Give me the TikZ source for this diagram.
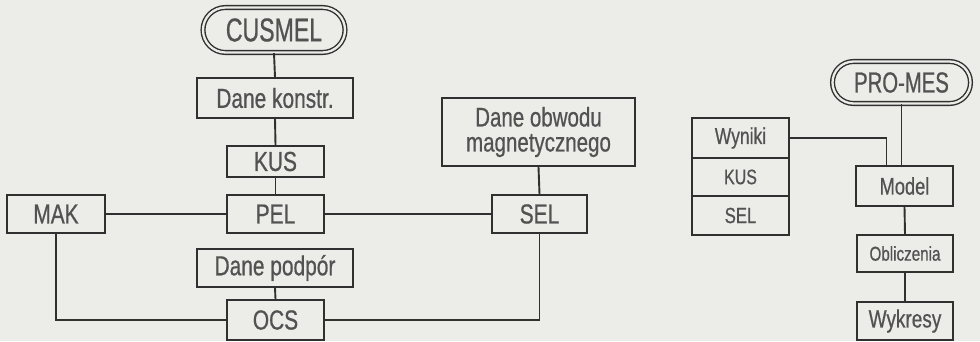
\documentclass[tikz,border=0pt]{standalone}
\usepackage{fontspec}
\newfontfamily\lett[FakeStretch=0.76,FakeBold=0.6]{Liberation Sans}
\newfontfamily\lettn[FakeStretch=0.7,FakeBold=0.6]{Liberation Sans}
\usetikzlibrary{shapes.misc}
\definecolor{paper}{RGB}{236,236,233}
\definecolor{ink}{RGB}{48,48,48}
\definecolor{letter}{RGB}{82,82,82}
\newcommand\lsize[1]{\lett\fontsize{#1}{#1}\selectfont}
\tikzset{
  box/.style={draw=ink, line width=1.9pt, inner sep=0pt, align=center,
              text=letter, font=\lsize{27.5}},
  prog/.style={rounded rectangle, draw=ink, line width=1.4pt,
               double=paper, double distance=2.3pt, inner sep=0pt,
               text=letter},
  link/.style={draw=ink, line width=1.9pt},
}
\begin{document}
\begin{tikzpicture}[x=1pt, y=-1pt]
  \fill[paper] (0,0) rectangle (980,341);
  \useasboundingbox (0,0) rectangle (980,341);

  % CUSMEL group
  \node[prog, minimum width=142pt, minimum height=45pt,
        font=\lettn\fontsize{33}{33}\selectfont] (cusmel) at (274,30) {CUSMEL};
  \node[box, minimum width=156pt, minimum height=40pt] (dk)  at (275,98)   {Dane konstr.};
  \node[box, minimum width=97pt,  minimum height=31pt] (kus) at (275.5,161.5) {KUS};
  \node[box, minimum width=97pt,  minimum height=38pt] (pel) at (275.5,214) {PEL};
  \node[box, minimum width=98pt,  minimum height=38pt] (mak) at (56,214)   {MAK};
  \node[box, minimum width=156pt, minimum height=38pt] (dp)  at (275,268)  {Dane podpór};
  \node[box, minimum width=193pt, minimum height=68pt, font=\lett\fontsize{27}{25}\selectfont]
       (dom) at (538.5,132) {Dane obwodu\\magnetycznego};
  \node[box, minimum width=97pt,  minimum height=40pt] (ocs) at (275.5,320) {OCS};
  \node[box, minimum width=95pt,  minimum height=38pt] (sel) at (539.5,214) {SEL};

  \draw[link] (cusmel.south) -- (dk.north);
  \draw[link] (dk.south) -- (kus.north);
  \draw[link] (kus.south) -- (pel.north);
  \draw[link] (mak.east) -- (pel.west);
  \draw[link] (pel.east) -- (sel.west);
  \draw[link] (dom.south) -- (sel.north);
  \draw[link] (dp.south) -- (ocs.north);
  \draw[link] (mak.south) |- (ocs.west);
  \draw[link] (ocs.east) -| (sel.south);

  % PRO-MES group
  \node[prog, minimum width=138pt, minimum height=42pt,
        font=\lettn\fontsize{29}{29}\selectfont] (pm) at (901.5,82.5) {PRO-MES};
  \node[box, minimum width=97pt, minimum height=40pt, font=\lsize{23}] (wyn)  at (740.5,138)   {Wyniki};
  \node[box, minimum width=97pt, minimum height=38pt, font=\lsize{21}] (kus2) at (740.5,177)   {KUS};
  \node[box, minimum width=97pt, minimum height=39pt, font=\lsize{22}] (sel2) at (740.5,215.5) {SEL};
  \node[box, minimum width=97pt, minimum height=40pt, font=\lsize{24}] (model) at (904.5,186)  {Model};
  \node[box, minimum width=96pt, minimum height=37pt, font=\lsize{20}] (obl)  at (905,253.5)   {Obliczenia};
  \node[box, minimum width=96pt, minimum height=38pt, font=\lsize{25}] (wyk)  at (905,321)     {Wykresy};

  \coordinate (mtap) at ([xshift=-18pt]model.north);
  \draw[link] (pm.south) -- (pm.south |- model.north);
  \draw[link] (wyn.east) -| (mtap);
  \draw[link] (model.south) -- (obl.north);
  \draw[link] (obl.south) -- (wyk.north);
\end{tikzpicture}
\end{document}
